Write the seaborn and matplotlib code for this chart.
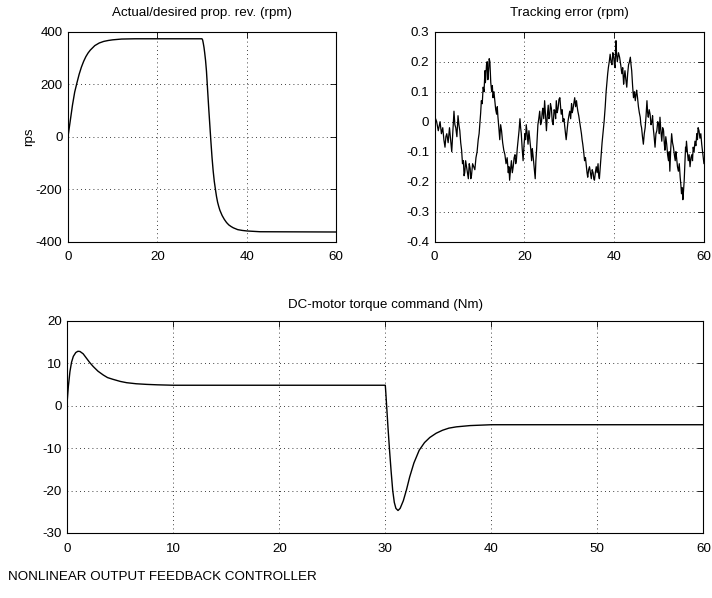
import matplotlib
matplotlib.use("Agg")
import matplotlib.pyplot as plt
import seaborn as sns

# Estilo tipo MATLAB
sns.set_style("white")
plt.rcParams['font.family'] = ['Liberation Sans', 'DejaVu Sans']
plt.rcParams['axes.unicode_minus'] = False
plt.rcParams['text.color'] = 'black'
plt.rcParams['axes.labelcolor'] = 'black'

# Rotação real/desejada da hélice (rpm)
t_rev = [0, 0.5, 1, 1.5, 2, 2.5, 3, 3.5, 4, 4.5, 5, 6, 7, 8, 9, 10, 12, 15, 30,
         30.15, 30.3, 30.45, 30.6, 30.8, 31, 31.25, 31.5, 31.75, 32, 32.25, 32.5,
         32.75, 33, 33.25, 33.5, 33.75, 34, 34.5, 35, 35.5, 36, 36.5, 37, 38, 39,
         40, 43, 60]
rev = [0, 60, 120, 170, 205, 238, 265, 287, 305, 319, 330, 347, 357, 363, 366.5,
       369, 372, 373, 373, 368, 355, 340, 320, 290, 250, 180, 110, 45, -20, -80,
       -130, -170, -200, -228, -250, -266, -280, -300, -315, -327, -336, -342,
       -347, -354, -357, -359, -362, -363]

# Erro de rastreamento (rpm): pares (tempo, erro)
err_pts = [
    (0, -0.02), (0.2, 0.01), (0.44, 0.0), (0.8, -0.03), (1.2, 0.0), (1.5, -0.04),
    (1.8, -0.02), (2.05, -0.06), (2.3, -0.085), (2.5, -0.05), (2.7, -0.04), (3.0, -0.07),
    (3.3, -0.02), (3.55, -0.06), (3.8, -0.1), (4.05, -0.03), (4.3, 0.035), (4.5, -0.01),
    (4.7, -0.02), (4.95, -0.05), (5.2, 0.02), (5.4, -0.01), (5.6, -0.03), (5.8, -0.07),
    (6.0, -0.095), (6.2, -0.14), (6.4, -0.13), (6.55, -0.18), (6.7, -0.17), (6.9, -0.13),
    (7.1, -0.15), (7.3, -0.17), (7.5, -0.19), (7.7, -0.14), (7.9, -0.155), (8.05, -0.19),
    (8.2, -0.18), (8.45, -0.14), (8.7, -0.15), (8.95, -0.16), (9.2, -0.12), (9.45, -0.1),
    (9.7, -0.06), (9.9, -0.04), (10.1, 0.0), (10.25, 0.03), (10.4, 0.07), (10.6, 0.06),
    (10.8, 0.115), (11.0, 0.1), (11.2, 0.17), (11.3, 0.13), (11.4, 0.15), (11.55, 0.19),
    (11.7, 0.2), (11.85, 0.14), (12.0, 0.17), (12.15, 0.21), (12.3, 0.2), (12.5, 0.13),
    (12.7, 0.1), (12.85, 0.12), (13.0, 0.08), (13.2, 0.1), (13.4, 0.07), (13.6, 0.04),
    (13.8, 0.025), (13.95, 0.05), (14.1, 0.015), (14.3, -0.02), (14.5, -0.06), (14.7, -0.01),
    (14.9, -0.03), (15.15, -0.07), (15.4, -0.095), (15.65, -0.11), (15.9, -0.14),
    (16.15, -0.12), (16.4, -0.17), (16.55, -0.15), (16.7, -0.195), (16.9, -0.16),
    (17.1, -0.13), (17.3, -0.17), (17.5, -0.15), (17.7, -0.12), (17.9, -0.11),
    (18.05, -0.14), (18.2, -0.13), (18.4, -0.09), (18.6, -0.06), (18.8, -0.03), (19.0, 0.01),
    (19.15, -0.02), (19.3, -0.04), (19.5, -0.09), (19.7, -0.13), (19.9, -0.08), (20.1, -0.04),
    (20.25, -0.06), (20.4, -0.01), (20.6, -0.04), (20.8, -0.075), (21.0, -0.03), (21.2, -0.06),
    (21.4, -0.09), (21.6, -0.13), (21.75, -0.09), (21.9, -0.11), (22.15, -0.15), (22.4, -0.19),
    (22.55, -0.13), (22.7, -0.095), (22.85, -0.05), (23.0, -0.01), (23.2, 0.01), (23.4, 0.035),
    (23.6, -0.01), (23.8, 0.0), (23.95, 0.03), (24.1, 0.045), (24.3, 0.01), (24.5, 0.07),
    (24.7, 0.02), (24.9, -0.03), (25.1, 0.02), (25.3, 0.055), (25.45, 0.01), (25.6, 0.015),
    (25.8, 0.06), (26.0, 0.045), (26.2, 0.0), (26.4, -0.01), (26.6, 0.04), (26.8, 0.035),
    (26.95, 0.01), (27.1, 0.07), (27.3, 0.03), (27.5, 0.045), (27.7, 0.075), (27.9, 0.08),
    (28.05, 0.05), (28.2, 0.025), (28.4, 0.04), (28.6, 0.0), (28.8, 0.01), (29.0, -0.02),
    (29.15, -0.04), (29.3, -0.06), (29.5, -0.03), (29.7, 0.0), (29.9, 0.02), (30.1, 0.035),
    (30.3, 0.01), (30.5, 0.06), (30.65, 0.03), (30.8, 0.04), (31.0, 0.06), (31.2, 0.08),
    (31.4, 0.05), (31.6, 0.07), (31.75, 0.05), (31.9, 0.035), (32.1, 0.02), (32.3, 0.0),
    (32.5, -0.02), (32.7, -0.04), (32.85, -0.06), (33.0, -0.075), (33.2, -0.1), (33.4, -0.13),
    (33.6, -0.12), (33.8, -0.15), (33.95, -0.17), (34.1, -0.185), (34.3, -0.16), (34.5, -0.15),
    (34.7, -0.17), (34.9, -0.19), (35.1, -0.16), (35.3, -0.17), (35.45, -0.19), (35.6, -0.195),
    (35.8, -0.17), (36.0, -0.15), (36.2, -0.17), (36.4, -0.14), (36.55, -0.18), (36.7, -0.19),
    (36.9, -0.15), (37.1, -0.11), (37.3, -0.07), (37.5, -0.04), (37.75, 0.0), (38.0, 0.05),
    (38.2, 0.1), (38.4, 0.135), (38.55, 0.16), (38.7, 0.18), (38.9, 0.2), (39.1, 0.225),
    (39.3, 0.2), (39.5, 0.19), (39.7, 0.23), (39.9, 0.215), (40.05, 0.19), (40.2, 0.18),
    (40.3, 0.24), (40.4, 0.27), (40.55, 0.22), (40.7, 0.2), (40.95, 0.23), (41.2, 0.215),
    (41.45, 0.19), (41.7, 0.16), (41.9, 0.18), (42.1, 0.125), (42.25, 0.15), (42.4, 0.17),
    (42.6, 0.14), (42.8, 0.115), (43.0, 0.16), (43.2, 0.19), (43.4, 0.2), (43.6, 0.215),
    (43.75, 0.19), (43.9, 0.17), (44.1, 0.12), (44.3, 0.08), (44.5, 0.1), (44.7, 0.07),
    (44.85, 0.09), (45.0, 0.105), (45.2, 0.08), (45.4, 0.05), (45.6, 0.03), (45.8, 0.015),
    (45.95, -0.01), (46.1, -0.02), (46.3, -0.05), (46.5, -0.075), (46.7, -0.04), (46.9, -0.02),
    (47.1, 0.02), (47.3, 0.07), (47.45, 0.03), (47.6, 0.015), (47.8, 0.04), (48.0, 0.025),
    (48.2, -0.01), (48.4, 0.0), (48.55, 0.02), (48.7, -0.02), (48.9, -0.05), (49.1, -0.085),
    (49.3, -0.04), (49.5, -0.03), (49.7, 0.0), (49.9, -0.01), (50.05, -0.04), (50.2, 0.015),
    (50.4, -0.03), (50.6, -0.065), (50.8, -0.02), (51.0, -0.03), (51.15, -0.07), (51.3, -0.095),
    (51.5, -0.05), (51.7, -0.075), (51.9, -0.11), (52.1, -0.13), (52.25, -0.1), (52.4, -0.165),
    (52.6, -0.09), (52.8, -0.04), (53.0, -0.07), (53.2, -0.085), (53.4, -0.11), (53.6, -0.13),
    (53.75, -0.1), (53.9, -0.12), (54.1, -0.15), (54.3, -0.165), (54.5, -0.14), (54.7, -0.185),
    (54.85, -0.21), (55.0, -0.24), (55.15, -0.22), (55.3, -0.26), (55.45, -0.23), (55.6, -0.195),
    (55.75, -0.14), (55.9, -0.085), (56.0, -0.1), (56.1, -0.065), (56.3, -0.1), (56.5, -0.13),
    (56.7, -0.11), (56.9, -0.15), (57.1, -0.12), (57.3, -0.11), (57.45, -0.13), (57.6, -0.085),
    (57.8, -0.1), (58.0, -0.065), (58.2, -0.08), (58.4, -0.04), (58.55, -0.06), (58.7, -0.02),
    (58.9, -0.03), (59.1, -0.055), (59.3, -0.04), (59.5, -0.075), (59.7, -0.1), (60.0, -0.14),
]
t_err = [p[0] for p in err_pts]
err = [p[1] for p in err_pts]

# Comando de torque do motor DC (Nm)
t_tq = [0, 0.1, 0.25, 0.4, 0.57, 0.8, 1.0, 1.2, 1.5, 1.8, 2.1, 2.45, 2.9, 3.4, 3.8,
        4.3, 5.0, 5.6, 6.5, 7.5, 8.5, 10, 30, 30.05, 30.15, 30.25, 30.4, 30.55, 30.7,
        30.85, 31.0, 31.2, 31.4, 31.7, 32.0, 32.3, 32.7, 33.2, 33.7, 34.2, 34.8, 35.4,
        36, 36.7, 38, 40, 60]
torque = [1.3, 4.5, 8, 10.2, 11.6, 12.5, 12.8, 12.75, 12.2, 11.2, 10.2, 9.2, 8.1,
          7.2, 6.6, 6.2, 5.7, 5.4, 5.15, 5.0, 4.9, 4.8, 4.8, 3, -1, -5, -10.5, -15.5,
          -20, -22.8, -24.2, -24.7, -24.2, -22.4, -19.8, -16.8, -13.5, -10.5, -8.7,
          -7.5, -6.5, -5.8, -5.3, -5.0, -4.7, -4.5, -4.5]

FS = 9.6


def estilo_matlab(ax, xlim, ylim, xticks, yticks, titulo, pad_titulo):
    ax.set_xlim(xlim)
    ax.set_ylim(ylim)
    ax.set_xticks(xticks)
    ax.set_yticks(yticks)
    ax.set_title(titulo, fontsize=FS, pad=pad_titulo, color='k')
    ax.grid(True, color='k', linestyle=(0, (1, 4)), linewidth=0.6)
    ax.tick_params(direction='in', top=True, right=True, length=4, width=0.6,
                   labelsize=FS, colors='k', pad=4)
    ax.tick_params(axis='x', pad=7)
    for s in ax.spines.values():
        s.set_color('k')
        s.set_linewidth(0.8)
    ax.set_xlabel('')


fig = plt.figure(figsize=(7.12, 5.98), dpi=100)

ax1 = fig.add_axes([0.0955, 0.5958, 0.3764, 0.3512])
sns.lineplot(x=t_rev, y=rev, ax=ax1, color='k', linewidth=1.0)
estilo_matlab(ax1, (0, 60), (-400, 400), [0, 20, 40, 60], [-400, -200, 0, 200, 400],
              'Actual/desired prop. rev. (rpm)', 11)
ax1.set_ylabel('rps', fontsize=FS, color='k')
ax1.yaxis.set_label_coords(-0.123, 0.5)

ax2 = fig.add_axes([0.6105, 0.5958, 0.3782, 0.3512])
sns.lineplot(x=t_err, y=err, ax=ax2, color='k', linewidth=0.9)
estilo_matlab(ax2, (0, 60), (-0.4, 0.3), [0, 20, 40, 60],
              [-0.4, -0.3, -0.2, -0.1, 0, 0.1, 0.2, 0.3], 'Tracking error (rpm)', 11)
ax2.set_yticklabels(['-0.4', '-0.3', '-0.2', '-0.1', '0', '0.1', '0.2', '0.3'])

ax3 = fig.add_axes([0.0945, 0.1087, 0.8933, 0.355])
sns.lineplot(x=t_tq, y=torque, ax=ax3, color='k', linewidth=1.0)
estilo_matlab(ax3, (0, 60), (-30, 20), [0, 10, 20, 30, 40, 50, 60],
              [-30, -20, -10, 0, 10, 20], 'DC-motor torque command (Nm)', 9)

fig.text(8 / 712, 1 - 577 / 598, 'NONLINEAR OUTPUT FEEDBACK CONTROLLER',
         fontsize=FS, ha='left', va='center', color='k')

fig.savefig('out.png', dpi=100)
